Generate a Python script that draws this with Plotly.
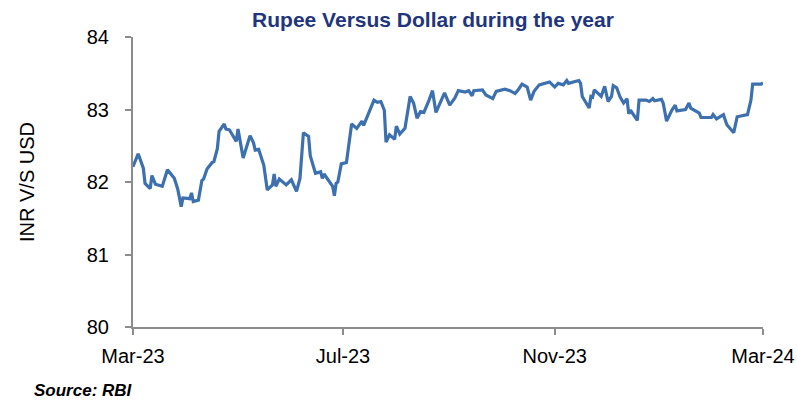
import pandas as pd
import plotly.graph_objects as go

# Day offsets from 1 Mar 2023 and INR per USD readings
start_date = "2023-03-01"
day_offsets = [0, 3, 6, 7, 10, 11, 13, 17, 20, 24, 26, 28, 29, 33, 34, 35, 38, 40, 41, 43,
               46, 47, 49, 50, 53, 54, 56, 60, 61, 64, 68, 70, 71, 73, 76, 78, 81, 82, 83, 85,
               89, 92, 95, 97, 99, 102, 103, 106, 109, 110, 111, 116, 117, 118, 119, 121, 124, 127, 130, 133,
               134, 140, 142, 144, 146, 147, 149, 152, 153, 155, 158, 161, 163, 165, 167, 169, 172, 174, 176, 181,
               184, 187, 189, 193, 195, 197, 198, 203, 205, 209, 211, 216, 219, 222, 224, 226, 229, 231, 233, 236,
               242, 245, 247, 250, 252, 253, 259, 260, 261, 265, 266, 267, 268, 272, 274, 276, 278, 279, 281, 283,
               285, 287, 288, 289, 293, 294, 298, 300, 302, 303, 307, 308, 310, 313, 315, 316, 321, 323, 324, 326,
               329, 330, 336, 337, 339, 343, 345, 349, 351, 357, 359, 360, 365, 366]
inr_usd = [82.21, 82.39, 82.19, 81.98, 81.91, 82.09, 81.97, 81.94, 82.17, 82.05, 81.90, 81.66, 81.78, 81.77, 81.85, 81.73, 81.75, 82.02, 82.04, 82.18,
           82.27, 82.28, 82.46, 82.70, 82.80, 82.73, 82.72, 82.56, 82.73, 82.33, 82.64, 82.54, 82.44, 82.45, 82.23, 81.89, 81.96, 82.11, 81.94, 82.04,
           81.96, 82.03, 81.87, 82.05, 82.68, 82.63, 82.36, 82.12, 82.14, 82.05, 82.11, 81.94, 81.81, 81.98, 82.00, 82.25, 82.27, 82.80, 82.74, 82.84,
           82.78, 83.13, 83.10, 83.11, 82.99, 82.55, 82.65, 82.59, 82.77, 82.66, 82.74, 83.18, 83.09, 82.88, 82.97, 82.96, 83.13, 83.26, 82.96, 83.23,
           83.06, 83.16, 83.26, 83.24, 83.26, 83.19, 83.26, 83.27, 83.20, 83.15, 83.25, 83.28, 83.26, 83.22, 83.28, 83.35, 83.31, 83.13, 83.25, 83.34,
           83.38, 83.31, 83.36, 83.34, 83.40, 83.36, 83.40, 83.36, 83.18, 83.02, 83.18, 83.17, 83.27, 83.18, 83.32, 83.11, 83.18, 83.33, 83.30, 83.17,
           83.09, 83.15, 82.94, 82.99, 82.85, 83.13, 83.13, 83.11, 83.15, 83.12, 83.14, 83.09, 82.84, 82.99, 83.06, 82.98, 83.00, 83.09, 83.02, 82.99,
           82.95, 82.89, 82.89, 82.93, 82.87, 82.93, 82.79, 82.68, 82.90, 82.93, 83.13, 83.35, 83.35, 83.37]

tick_dates = ["2023-03-01", "2023-07-01", "2023-11-01", "2024-03-01"]
tick_labels = ["Mar-23", "Jul-23", "Nov-23", "Mar-24"]
y_ticks = [80, 81, 82, 83, 84]

dates = pd.Timestamp(start_date) + pd.to_timedelta(day_offsets, unit="D")

fig = go.Figure()
fig.add_trace(go.Scatter(x=dates, y=inr_usd, mode="lines",
                         line=dict(color="#3D70AE", width=3.2), hoverinfo="skip"))

font_family = "Liberation Sans, Arial, sans-serif"
axis_color = "#8C8C8C"

fig.update_layout(
    width=797, height=403,
    margin=dict(l=133, r=34, t=37, b=76),
    paper_bgcolor="white", plot_bgcolor="white",
    showlegend=False,
    font=dict(family=font_family, size=20, color="black"),
    title=dict(text="<b>Rupee Versus Dollar during the year</b>",
               font=dict(family=font_family, size=21, color="#1F357E"),
               x=433 / 797, xanchor="center", xref="container",
               y=1 - 20 / 403, yanchor="middle", yref="container"),
    xaxis=dict(type="date", range=[tick_dates[0], tick_dates[-1]], automargin=False,
               tickmode="array", tickvals=tick_dates, ticktext=tick_labels,
               showgrid=False, zeroline=False, showline=True, linecolor=axis_color, linewidth=2,
               ticks="outside", ticklen=6, tickwidth=2, tickcolor=axis_color,
               tickfont=dict(size=20, color="black"), ticklabelstandoff=4),
    yaxis=dict(range=[80, 84], tickmode="array", tickvals=y_ticks, automargin=False,
               showgrid=False, zeroline=False, showline=True, linecolor=axis_color, linewidth=2,
               ticks="outside", ticklen=6, tickwidth=2, tickcolor=axis_color,
               tickfont=dict(size=20, color="black"), ticklabelstandoff=12),
    annotations=[
        dict(text="INR V/S USD", textangle=-90, xref="paper", yref="paper",
             x=(27 - 133) / 630, y=0.5, xanchor="center", yanchor="middle",
             showarrow=False, font=dict(size=20, color="black")),
        dict(text="<b><i>Source: RBI</i></b>", xref="paper", yref="paper",
             x=(32 - 133) / 630, y=(327 - 390) / 290, xanchor="left", yanchor="middle",
             showarrow=False, font=dict(size=17, color="black")),
    ],
)

fig.write_html("out.html")
